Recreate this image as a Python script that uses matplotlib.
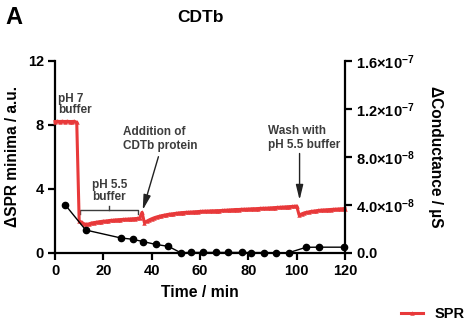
import matplotlib
matplotlib.use("Agg")
import matplotlib.pyplot as plt
import numpy as np

plt.rcParams['font.family'] = ['Liberation Sans', 'DejaVu Sans']
plt.rcParams['font.weight'] = 'bold'
plt.rcParams['mathtext.fontset'] = 'custom'
plt.rcParams['mathtext.rm'] = 'Liberation Sans'
plt.rcParams['mathtext.bf'] = 'Liberation Sans:bold'

# ---- data ----
spr_time = list(range(0, 121))
spr_values = [
    8.20, 8.21, 8.20, 8.21, 8.20, 8.21, 8.20, 8.20, 8.21, 8.15,   # 0-9
    2.00, 1.90, 1.80, 1.78, 1.80, 1.85, 1.88, 1.90, 1.93, 1.95,   # 10-19
    1.97, 1.98, 2.00, 2.02, 2.03, 2.05, 2.06, 2.07, 2.08, 2.09,   # 20-29
    2.10, 2.11, 2.12, 2.13, 2.14, 2.16, 2.52, 1.88, 1.97, 2.05,   # 30-39
    2.12, 2.18, 2.23, 2.27, 2.31, 2.34, 2.37, 2.40, 2.42, 2.44,   # 40-49
    2.46, 2.48, 2.50, 2.51, 2.52, 2.53, 2.54, 2.55, 2.56, 2.57,   # 50-59
    2.58, 2.59, 2.60, 2.60, 2.61, 2.62, 2.62, 2.63, 2.63, 2.64,   # 60-69
    2.65, 2.66, 2.67, 2.68, 2.69, 2.70, 2.70, 2.71, 2.72, 2.72,   # 70-79
    2.73, 2.74, 2.75, 2.75, 2.76, 2.77, 2.78, 2.78, 2.79, 2.80,   # 80-89
    2.81, 2.82, 2.83, 2.84, 2.85, 2.86, 2.87, 2.88, 2.89, 2.90,   # 90-99
    2.92, 2.36, 2.42, 2.48, 2.52, 2.55, 2.58, 2.60, 2.62, 2.64,   # 100-109
    2.66, 2.67, 2.68, 2.69, 2.70, 2.71, 2.72, 2.73, 2.74, 2.75,   # 110-119
    2.76,                                                          # 120
]

cond_time = [4.3, 12.7, 27.2, 32.1, 36.6, 41.7, 46.9, 52.0, 56.1, 61.4,
             66.5, 71.7, 77.2, 81.1, 86.3, 91.5, 96.7, 103.9, 109.1, 119.5]
cond_values = [3.97e-8, 1.89e-8, 1.23e-8, 1.12e-8, 0.92e-8, 0.69e-8, 0.53e-8,
               0.0, 0.02e-8, 0.02e-8, 0.02e-8, 0.02e-8, 0.02e-8, 0.01e-8,
               0.01e-8, 0.0, 0.0, 0.45e-8, 0.46e-8, 0.46e-8]

left_ticks = [0, 4, 8, 12]
right_ticks = [0.0, 4.0e-8, 8.0e-8, 1.2e-7, 1.6e-7]
right_tick_labels = [r'$\mathbf{0.0}$',
                     r'$\mathbf{4.0{\times}10^{-8}}$',
                     r'$\mathbf{8.0{\times}10^{-8}}$',
                     r'$\mathbf{1.2{\times}10^{-7}}$',
                     r'$\mathbf{1.6{\times}10^{-7}}$']
x_ticks = [0, 20, 40, 60, 80, 100, 120]

RED = '#E8393A'
GRAY = '#3C3C3C'

fig = plt.figure(figsize=(4.68, 3.23), dpi=100)
ax = fig.add_axes([55/468, 1-252.7/323, (345-55)/468, (252.7-60.7)/323])
ax2 = ax.twinx()

spr_line, = ax.plot(spr_time, spr_values, color=RED, lw=2.2, marker='^',
                    markersize=3.2, markeredgewidth=0, clip_on=False, zorder=3)
ax2.plot(cond_time, cond_values, color='black', lw=1.0, marker='o',
         markersize=4.5, clip_on=False, zorder=3)

ax.set_xlim(0, 120)
ax.set_ylim(0, 12)
ax2.set_ylim(0, 1.6e-7)
ax.set_xticks(x_ticks)
ax.set_yticks(left_ticks)
ax2.set_yticks(right_ticks)
ax2.set_yticklabels(right_tick_labels)

for a in (ax, ax2):
    a.spines['top'].set_visible(False)
    for s in ('left', 'right', 'bottom'):
        a.spines[s].set_linewidth(1.6)
    a.tick_params(width=1.6, length=5, labelsize=10.5, pad=3)
ax.spines['right'].set_visible(False)
ax2.spines['left'].set_visible(False)
ax2.spines['bottom'].set_visible(False)

for lab in ax.get_xticklabels() + ax.get_yticklabels():
    lab.set_fontweight('bold')

ax.set_xlabel('Time / min', fontsize=11.3, fontweight='bold', labelpad=5)
ax.set_ylabel('ΔSPR minima / a.u.', fontsize=11.2, fontweight='bold',
              va='center')
ax.yaxis.set_label_coords(-42.5/290, 0.5)
ax2.set_ylabel('ΔConductance / µS', fontsize=11.2, fontweight='bold',
               rotation=270, va='center')
ax2.yaxis.set_label_coords(1 + (436-345)/290, 0.5)

fig.text(200/468, 1-17.5/323, 'CDTb', ha='center', va='center',
         fontsize=12.5, fontweight='bold')
fig.text(5/468, 1-17/323, 'A', ha='left', va='center',
         fontsize=17, fontweight='bold')

# annotations
ax.text(1.4, 9.25, 'pH 7\nbuffer', ha='left', va='center', fontsize=8.5,
        fontweight='bold', color=GRAY, linespacing=0.95)
ax.text(15.2, 3.85, 'pH 5.5\nbuffer', ha='left', va='center', fontsize=8.5,
        fontweight='bold', color=GRAY, linespacing=1.05)
ax.text(28.3, 7.1, 'Addition of\nCDTb protein', ha='left', va='center',
        fontsize=8.5, fontweight='bold', color=GRAY, linespacing=1.2)
ax.text(88.3, 7.15, 'Wash with\npH 5.5 buffer', ha='left', va='center',
        fontsize=8.5, fontweight='bold', color=GRAY, linespacing=1.2)

# bracket
ax.plot([10.3, 10.3, 34.5, 34.5], [2.42, 2.67, 2.67, 2.42], color=GRAY, lw=1.0)
ax.plot([22.5, 22.5], [2.67, 2.92], color=GRAY, lw=1.0)

arrow_kw = dict(arrowstyle='-|>,head_length=0.9,head_width=0.22',
                color='#222222', lw=1.0, shrinkA=0, shrinkB=0)
ax.annotate('', xy=(36.3, 2.67), xytext=(42.8, 6.0), arrowprops=arrow_kw)
ax.annotate('', xy=(101.2, 3.3), xytext=(101.2, 6.2), arrowprops=arrow_kw)

fig.legend(handles=[spr_line], labels=['SPR'], loc='center left',
           bbox_to_anchor=(401/468, 1-314/323), frameon=False,
           borderpad=0, borderaxespad=0, handlelength=1.5, handletextpad=0.8,
           prop={'weight': 'bold', 'size': 10.5})

fig.savefig('out.png', dpi=100)
